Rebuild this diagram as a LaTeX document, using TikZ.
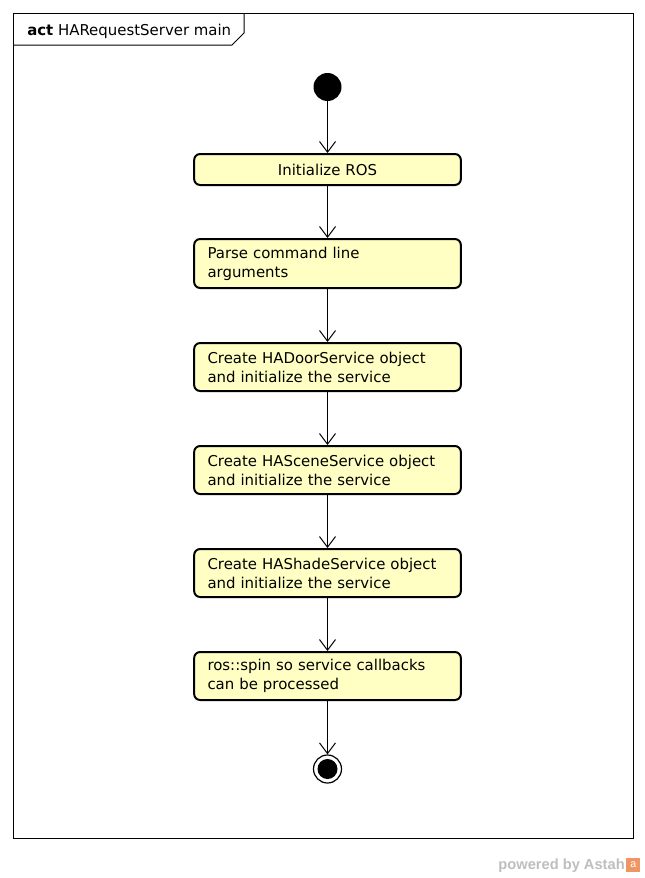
\documentclass[tikz,border=0pt]{standalone}
\usepackage{fontspec}
\setmainfont{DejaVu Sans}
\newfontfamily\wmfont{Liberation Sans}
\usetikzlibrary{arrows.meta}
\definecolor{actfill}{RGB}{255,255,196}
\definecolor{wmgray}{RGB}{190,190,190}
\definecolor{wmorange}{RGB}{240,150,100}
\begin{document}
\begin{tikzpicture}[x=0.75pt,y=-0.75pt,
  action/.style={draw=black, line width=1.5pt, fill=actfill, rounded corners=4.5pt,
    minimum width=200pt, text width=180pt, inner xsep=10pt, inner ysep=0pt,
    font=\fontsize{11.2}{14.25}\selectfont, align=left},
  flow/.style={line width=0.75pt, -{Straight Barb[open,length=8pt,width=12pt,line width=0.75pt]}},
  frameline/.style={line width=0.75pt}]
\useasboundingbox (0,0) rectangle (645,878);
% outer activity frame
\draw[frameline] (13,13) rectangle (633,838);
\draw[frameline] (13,45) -- (232,45) -- (244,33) -- (244,13);
\node[anchor=base west, inner sep=0pt, font=\fontsize{11.2}{13}\selectfont] (title) at (27,35)
  {\textbf{act} HARequestServer main};
% initial node
\node[circle, fill=black, minimum size=21pt, inner sep=0pt] (start) at (327.5,87) {};
% actions
\node[action, minimum height=23.25pt, align=center] (b1) at (327.5,169.5) {Initialize ROS};
\node[action, minimum height=36.75pt] (b2) at (327.5,263.5) {Parse command line\\arguments};
\node[action, minimum height=36pt] (b3) at (327.5,367) {Create HADoorService object\\and initialize the service};
\node[action, minimum height=36pt] (b4) at (327.5,470) {Create HASceneService object\\and initialize the service};
\node[action, minimum height=36pt] (b5) at (327.5,573) {Create HAShadeService object\\and initialize the service};
\node[action, minimum height=36pt] (b6) at (327.5,676) {ros::spin so service callbacks\\can be processed};
% final node
\node[circle, draw=black, line width=0.9pt, fill=white, minimum size=21pt, inner sep=0pt] (stop) at (327.5,769) {};
\fill[black] (stop.center) circle (7.5pt);
% control flows
\draw[flow] (start) -- (b1);
\draw[flow] (b1) -- (b2);
\draw[flow] (b2) -- (b3);
\draw[flow] (b3) -- (b4);
\draw[flow] (b4) -- (b5);
\draw[flow] (b5) -- (b6);
\draw[flow] (b6) -- (stop);
% footer mark
\node[anchor=base east, inner sep=0pt, text=wmgray, font=\wmfont\bfseries\fontsize{11}{12}\selectfont] (wm) at (625,869) {powered by Astah};
\node[anchor=west, fill=wmorange, text=white, inner sep=0pt, minimum size=10.5pt, font=\wmfont\fontsize{8}{9}\selectfont] (logo) at (626,865) {a};
\end{tikzpicture}
\end{document}
